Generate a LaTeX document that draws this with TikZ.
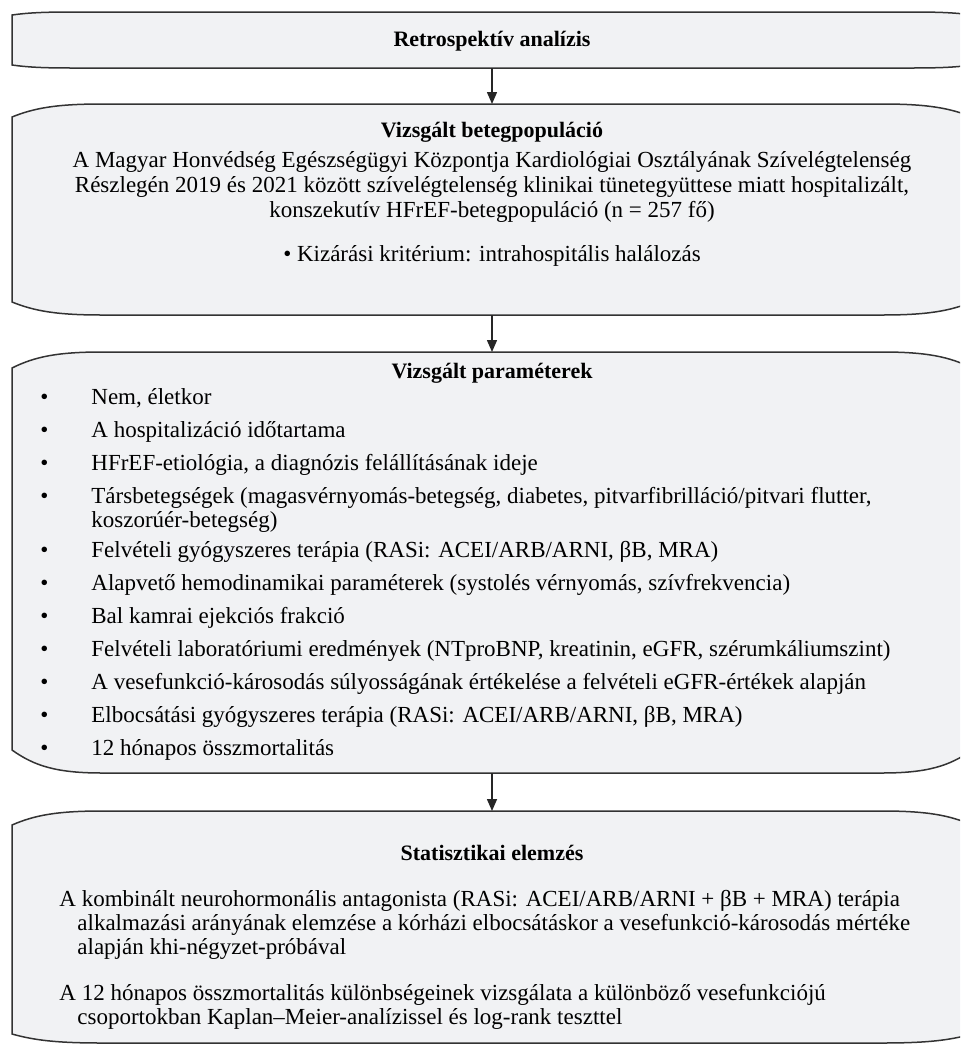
\documentclass[tikz,border=0pt]{standalone}
\usepackage{fontspec}
\setmainfont{Liberation Serif}
\usetikzlibrary{arrows.meta}
\tikzset{
  boxstyle/.style={draw=black!80, fill=boxgray, line width=0.75pt},
  arr/.style={draw=black!85, line width=0.75pt, -{Triangle[length=6pt,width=5pt]}},
  txt/.style={inner sep=0pt, font=\fontsize{11.5}{12.5}\selectfont},
  ttl/.style={inner sep=0pt, font=\fontsize{11}{12.5}\selectfont\bfseries, anchor=base},
  lft/.style={txt, anchor=base west},
  ctr/.style={txt, anchor=base},
}
\definecolor{boxgray}{HTML}{F1F2F4}
% x1,y1,x2,y2,rx,rytop,rybottom
\newcommand\curvbox[7]{%
  \filldraw[boxstyle] (#1,{#2+#6}) .. controls ({#1+0.25*#5},{#2+0.3*#6}) and ({#1+0.5*#5},#2) .. ({#1+#5},#2)
   -- ({#3-#5},#2) .. controls ({#3-0.5*#5},#2) and ({#3-0.25*#5},{#2+0.3*#6}) .. (#3,{#2+#6})
   -- (#3,{#4-#7}) .. controls ({#3-0.25*#5},{#4-0.3*#7}) and ({#3-0.5*#5},#4) .. ({#3-#5},#4)
   -- ({#1+#5},#4) .. controls ({#1+0.5*#5},#4) and ({#1+0.25*#5},{#4-0.3*#7}) .. (#1,{#4-#7}) -- cycle;}
\begin{document}
\begin{tikzpicture}[x=0.5pt,y=-0.5pt]
\useasboundingbox (0,0) rectangle (960,1045);
\begin{scope}
\clip (0,0) rectangle (960,1045);
\curvbox{12}{12}{972}{68}{60}{3}{3}
\curvbox{12}{104}{972}{315}{90}{13}{13}
\curvbox{12}{352}{972}{773}{90}{16}{23}
\curvbox{12}{811}{972}{1043}{90}{14}{9}
\end{scope}
\coordinate (b1s) at (492,68);
\coordinate (b2n) at (492,104);
\coordinate (b2s) at (492,315);
\coordinate (b3n) at (492,352);
\coordinate (b3s) at (492,773);
\coordinate (b4n) at (492,811);
\draw[arr] (b1s) -- (b2n);
\draw[arr] (b2s) -- (b3n);
\draw[arr] (b3s) -- (b4n);
% box 1
\node[ttl] (t1) at (492,46) {Retrospektív analízis};
% box 2
\node[ttl] (t2) at (492,137) {Vizsgált betegpopuláció};
\node[ctr] (p1) at (492,167) {A Magyar Honvédség Egészségügyi Központja Kardiológiai Osztályának Szívelégtelenség};
\node[ctr] (p2) at (492,192) {Részlegén 2019 és 2021 között szívelégtelenség klinikai tünetegyüttese miatt hospitalizált,};
\node[ctr] (p3) at (492,217) {konszekutív HFrEF-betegpopuláció (n = 257 fő)};
\node[ctr] (p4) at (492,261) {• Kizárási kritérium: intrahospitális halálozás};
% box 3
\node[ttl] (t3) at (492,378) {Vizsgált paraméterek};
\foreach \y/\t [count=\i] in {
  404/{Nem, életkor},
  437/{A hospitalizáció időtartama},
  470/{HFrEF-etiológia, a diagnózis felállításának ideje},
  503/{Társbetegségek (magasvérnyomás-betegség, diabetes, pitvarfibrilláció/pitvari flutter,},
  557/{Felvételi gyógyszeres terápia (RASi: ACEI/ARB/ARNI, βB, MRA)},
  590/{Alapvető hemodinamikai paraméterek (systolés vérnyomás, szívfrekvencia)},
  623/{Bal kamrai ejekciós frakció},
  656/{Felvételi laboratóriumi eredmények (NTproBNP, kreatinin, eGFR, szérumkáliumszint)},
  689/{A vesefunkció-károsodás súlyosságának értékelése a felvételi eGFR-értékek alapján},
  722/{Elbocsátási gyógyszeres terápia (RASi: ACEI/ARB/ARNI, βB, MRA)},
  755/{12 hónapos összmortalitás}} {
  \node[lft] (bul\i) at (40,\y) {•};
  \node[lft] (it\i) at (91,\y) {\t};
}
\node[lft] (it4b) at (91,527) {koszorúér-betegség)};
% box 4
\node[ttl] (t4) at (492,860) {Statisztikai elemzés};
\node[lft] (s1) at (59,906) {A kombinált neurohormonális antagonista (RASi: ACEI/ARB/ARNI + βB + MRA) terápia};
\node[lft] (s2) at (77,930) {alkalmazási arányának elemzése a kórházi elbocsátáskor a vesefunkció-károsodás mértéke};
\node[lft] (s3) at (77,954) {alapján khi-négyzet-próbával};
\node[lft] (s4) at (59,1000) {A 12 hónapos összmortalitás különbségeinek vizsgálata a különböző vesefunkciójú};
\node[lft] (s5) at (77,1024) {csoportokban Kaplan–Meier-analízissel és log-rank teszttel};
\end{tikzpicture}
\end{document}
